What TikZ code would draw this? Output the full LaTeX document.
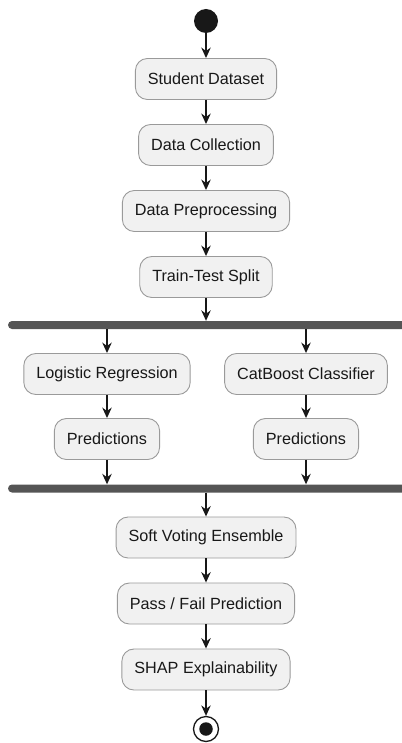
\documentclass[tikz,border=0pt]{standalone}
\usepackage{fontspec}
\setmainfont{Liberation Sans}
\usetikzlibrary{arrows.meta}

\definecolor{actfill}{HTML}{F1F1F1}
\definecolor{actline}{HTML}{9A9A9A}
\definecolor{barfill}{HTML}{555555}
\definecolor{ink}{HTML}{181818}

\begin{document}
\begin{tikzpicture}[x=1pt, y=-1pt, node distance=66pt,
    >={Stealth[length=10.5pt, width=9.5pt, inset=3.5pt]},
    act/.style={draw=actline, fill=actfill, rectangle, rounded corners=12pt,
        minimum height=41pt, inner xsep=12.5pt, line width=0.9pt, text=ink,
        font=\fontsize{16.2}{18}\selectfont},
    bar/.style={fill=barfill, rectangle, rounded corners=4pt,
        minimum width=402pt, minimum height=8pt, inner sep=0pt},
    flow/.style={->, draw=ink, line width=1.3pt}]
    \useasboundingbox (0,0) rectangle (401,743);

    % pipeline up to the split
    \node[circle, fill=ink, minimum size=24pt, inner sep=0pt] (start) at (206,21) {};
    \node[act] (data) at (206,79) {Student Dataset};
    \node[act, below of=data] (collect) {Data Collection};
    \node[act, below of=collect] (prep) {Data Preprocessing};
    \node[act, below of=prep] (split) {Train-Test Split};
    \draw[flow] (start) -- (data);
    \draw[flow] (data) -- (collect);
    \draw[flow] (collect) -- (prep);
    \draw[flow] (prep) -- (split);

    % fork into the two models
    \node[bar] (fork) at (209,325) {};
    \draw[flow] (split) -- (split.south |- fork.north);
    \node[act] (logreg) at (107,374) {Logistic Regression};
    \node[act] (catboost) at (306,374) {CatBoost Classifier};
    \node[act, below of=logreg, node distance=65pt] (predlr) {Predictions};
    \node[act, below of=catboost, node distance=65pt] (predcb) {Predictions};
    \draw[flow] (logreg.north |- fork.south) -- (logreg);
    \draw[flow] (catboost.north |- fork.south) -- (catboost);
    \draw[flow] (logreg) -- (predlr);
    \draw[flow] (catboost) -- (predcb);

    % join and ensemble
    \node[bar] (join) at (209,488.5) {};
    \draw[flow] (predlr) -- (predlr.south |- join.north);
    \draw[flow] (predcb) -- (predcb.south |- join.north);
    \node[act] (vote) at (206,537.5) {Soft Voting Ensemble};
    \node[act, below of=vote] (passfail) {Pass / Fail Prediction};
    \node[act, below of=passfail] (shap) {SHAP Explainability};
    \draw[flow] (vote.north |- join.south) -- (vote);
    \draw[flow] (vote) -- (passfail);
    \draw[flow] (passfail) -- (shap);

    % end
    \node[circle, draw=ink, line width=1.3pt, minimum size=25pt, inner sep=0pt,
          below of=shap, node distance=59.5pt] (stop) {};
    \node[circle, fill=ink, minimum size=13.5pt, inner sep=0pt] (stopdot) at (stop) {};
    \draw[flow] (shap) -- (stop);
\end{tikzpicture}
\end{document}
